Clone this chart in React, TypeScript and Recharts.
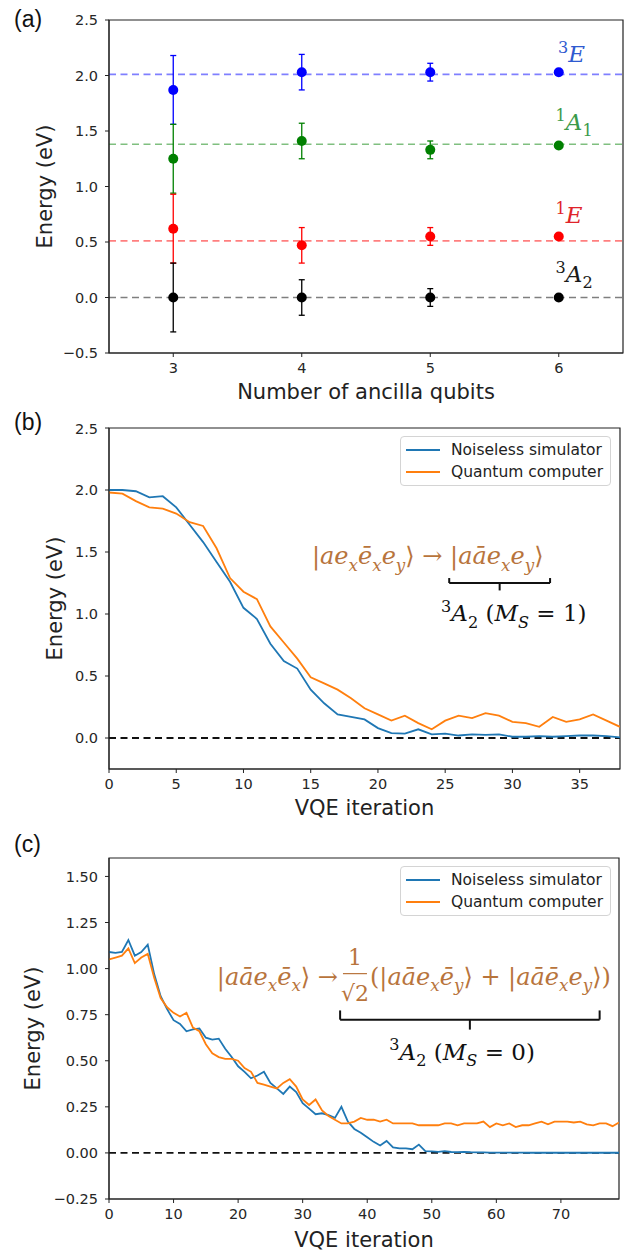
import React from "react";
import {
  ComposedChart,
  LineChart,
  Line,
  Scatter,
  ErrorBar,
  XAxis,
  YAxis,
  ReferenceLine,
  ReferenceArea,
  ReferenceDot,
  Legend,
} from "recharts";

// ---- panel (a): state energies vs number of ancilla qubits
const ancillaQubits = [3, 4, 5, 6];
const ancillaError = [0.31, 0.16, 0.08, 0];
const energy3E = [1.87, 2.03, 2.03, 2.03];
const energy1A1 = [1.25, 1.41, 1.33, 1.37];
const energy1E = [0.62, 0.47, 0.55, 0.55];
const energy3A2 = [0, 0, 0, 0];
const exactLevels = [2.01, 1.38, 0.51, 0];
const ticksAX = [3, 4, 5, 6];
const ticksAY = [-0.5, 0, 0.5, 1, 1.5, 2, 2.5];

// ---- panel (b): VQE run, M_S = 1
const simB = [
  2.0, 2.0, 1.99, 1.94, 1.95, 1.86, 1.72, 1.58, 1.42, 1.26,
  1.05, 0.96, 0.76, 0.62, 0.56, 0.39, 0.28, 0.19, 0.17, 0.15,
  0.08, 0.04, 0.035, 0.07, 0.03, 0.035, 0.02, 0.03, 0.025, 0.03,
  0.01, 0.01, 0.015, 0.01, 0.015, 0.02, 0.02, 0.015, 0.005,
];
const qcB = [
  1.98, 1.97, 1.91, 1.86, 1.85, 1.81, 1.74, 1.71, 1.53, 1.29,
  1.18, 1.12, 0.9, 0.77, 0.64, 0.49, 0.44, 0.39, 0.32, 0.24,
  0.19, 0.14, 0.18, 0.12, 0.07, 0.14, 0.18, 0.16, 0.2, 0.18,
  0.13, 0.12, 0.09, 0.17, 0.13, 0.15, 0.19, 0.14, 0.09,
];
const ticksBX = [0, 5, 10, 15, 20, 25, 30, 35];
const ticksBY = [0, 0.5, 1, 1.5, 2, 2.5];

// ---- panel (c): VQE run, M_S = 0
const simC = [
  1.09, 1.085, 1.09, 1.155, 1.07, 1.09, 1.13, 0.97, 0.85, 0.78,
  0.72, 0.7, 0.66, 0.67, 0.675, 0.625, 0.615, 0.62, 0.565, 0.52,
  0.47, 0.44, 0.405, 0.42, 0.44, 0.38, 0.35, 0.32, 0.36, 0.33,
  0.27, 0.24, 0.21, 0.215, 0.205, 0.19, 0.25, 0.17, 0.13, 0.11,
  0.085, 0.06, 0.04, 0.065, 0.03, 0.025, 0.025, 0.02, 0.045, 0.01,
  0.008, 0.006, 0.01, 0.005, 0.004, 0.006, 0.004, 0.003, 0.003, 0.002,
  0.002, 0.002, 0.002, 0.002, 0.002, 0.001, 0.001, 0.001, 0.001, 0.001,
  0.001, 0.001, 0.001, 0.001, 0.001, 0.001, 0.001, 0.001, 0.001, 0.001,
];
const qcC = [
  1.05, 1.06, 1.07, 1.11, 1.03, 1.06, 1.08, 0.95, 0.84, 0.79,
  0.76, 0.74, 0.76, 0.68, 0.66, 0.59, 0.54, 0.52, 0.51, 0.51,
  0.5, 0.46, 0.44, 0.38, 0.37, 0.36, 0.35, 0.38, 0.4, 0.36,
  0.29, 0.26, 0.29, 0.23, 0.2, 0.18, 0.16, 0.16, 0.17, 0.19,
  0.18, 0.18, 0.17, 0.18, 0.16, 0.16, 0.16, 0.16, 0.15, 0.15,
  0.15, 0.15, 0.16, 0.16, 0.15, 0.16, 0.16, 0.16, 0.17, 0.14,
  0.16, 0.15, 0.16, 0.14, 0.15, 0.15, 0.16, 0.17, 0.155, 0.17,
  0.17, 0.17, 0.165, 0.17, 0.155, 0.15, 0.16, 0.16, 0.145, 0.165,
];
const ticksCX = [0, 10, 20, 30, 40, 50, 60, 70];
const ticksCY = [-0.25, 0, 0.25, 0.5, 0.75, 1, 1.25, 1.5];

const BLUE = "#1f77b4";
const ORANGE = "#ff7f0e";
const BROWN = "#b8743c";
const SANS = "'DejaVu Sans', sans-serif";
const SERIF = "'DejaVu Serif', serif";

const tickStyle = { fontSize: 14.5, fontFamily: SANS, fill: "#262626" };
const axisTitle = { fontSize: 21, fontFamily: SANS, fill: "#222" };

const fmt1 = (v: number) => (v < 0 ? "\u2212" : "") + Math.abs(v).toFixed(1);
const fmt2 = (v: number) => (v < 0 ? "\u2212" : "") + Math.abs(v).toFixed(2);

// [text, shift (1 sub, -1 sup), upright]
type Part = [string, number?, boolean?];

const mathSpans = (parts: Part[], size: number) => {
  let cur = 0;
  return parts.map(([t, s = 0, upright = false], i) => {
    const target = s > 0 ? size * 0.28 : s < 0 ? -size * 0.4 : 0;
    const dy = target - cur;
    cur = target;
    return (
      <tspan
        key={i}
        dy={dy}
        fontSize={s ? size * 0.7 : size}
        fontStyle={upright ? "normal" : "italic"}
      >
        {t}
      </tspan>
    );
  });
};

const mathShape =
  (parts: Part[], size: number, color: string, anchor = "middle") =>
  (p: any) =>
    (
      <text x={p.cx} y={p.cy} textAnchor={anchor} fill={color} fontFamily={SERIF} fontSize={size}>
        {mathSpans(parts, size)}
      </text>
    );

// level labels for panel (a)
const levelStates = [
  { values: energy3E, color: "#0000ff", line: "rgba(0,0,255,0.5)", text: "#2f5ad0",
    label: [["3", -1, true], ["E"]] as Part[], lx: 6.1, ly: 2.12 },
  { values: energy1A1, color: "#008000", line: "rgba(0,128,0,0.5)", text: "#3c9a4a",
    label: [["1", -1, true], ["A"], ["1", 1, true]] as Part[], lx: 6.12, ly: 1.51 },
  { values: energy1E, color: "#ff0000", line: "rgba(255,0,0,0.5)", text: "#e0242a",
    label: [["1", -1, true], ["E"]] as Part[], lx: 6.08, ly: 0.67 },
  { values: energy3A2, color: "#000000", line: "rgba(0,0,0,0.5)", text: "#1a1a1a",
    label: [["3", -1, true], ["A"], ["2", 1, true]] as Part[], lx: 6.12, ly: 0.14 },
].map((s, k) => ({
  ...s,
  level: exactLevels[k],
  data: ancillaQubits.map((q, i) => ({ x: q, y: s.values[i], err: ancillaError[i] })),
}));

const LegendBox = (props: any) => {
  const items = props.payload || [];
  return (
    <div
      style={{
        boxSizing: "border-box",
        width: 211,
        height: 50,
        border: "1px solid #d4d4d4",
        borderRadius: 4,
        background: "rgba(255,255,255,0.85)",
        padding: "2px 5px",
        fontFamily: SANS,
        fontSize: 15.5,
        color: "#222",
      }}
    >
      {items.map((it: any) => (
        <div key={it.value} style={{ display: "flex", alignItems: "center", height: 22 }}>
          <svg width={34} height={4} style={{ marginRight: 11 }}>
            <line x1={0} y1={2} x2={34} y2={2} stroke={it.color} strokeWidth={2} />
          </svg>
          <span>{it.value}</span>
        </div>
      ))}
    </div>
  );
};

const panelTag = (text: string, top: number) => (
  <div
    style={{
      position: "absolute",
      left: 14,
      top,
      fontFamily: "'Liberation Sans', Arial, sans-serif",
      fontSize: 23,
      lineHeight: "23px",
      color: "#111",
    }}
  >
    {text}
  </div>
);

const brace = (x1: number, x2: number, top: number, bar: number, tip: number) => {
  const mid = (x1 + x2) / 2;
  const segs = [
    [{ x: x1, y: top }, { x: x1, y: bar }],
    [{ x: x1, y: bar }, { x: x2, y: bar }],
    [{ x: x2, y: bar }, { x: x2, y: top }],
    [{ x: mid, y: bar }, { x: mid, y: tip }],
  ];
  return segs.map((s, i) => (
    <ReferenceLine key={"br" + i} segment={s} stroke="#111" strokeWidth={2} />
  ));
};

const ketB: Part[] = [
  ["|", 0, true], ["ae"], ["x", 1], ["ē"], ["x", 1], ["e"], ["y", 1],
  ["\u27E9 \u2192 |", 0, true], ["aāe"], ["x", 1], ["e"], ["y", 1], ["\u27E9", 0, true],
];
const stateB: Part[] = [
  ["3", -1, true], ["A"], ["2", 1, true], [" (", 0, true], ["M"], ["S", 1], [" = 1)", 0, true],
];
const ketCLeft: Part[] = [
  ["|", 0, true], ["aāe"], ["x", 1], ["ē"], ["x", 1], ["\u27E9 \u2192", 0, true],
];
const ketCRight: Part[] = [
  ["(|", 0, true], ["aāe"], ["x", 1], ["ē"], ["y", 1], ["\u27E9 + |", 0, true],
  ["aāē"], ["x", 1], ["e"], ["y", 1], ["\u27E9)", 0, true],
];
const stateC: Part[] = [
  ["3", -1, true], ["A"], ["2", 1, true], [" (", 0, true], ["M"], ["S", 1], [" = 0)", 0, true],
];

const fractionShape = (p: any) => {
  const size = 24;
  return (
    <g fill={BROWN} fontFamily={SERIF}>
      <text x={p.cx - 17} y={p.cy} textAnchor="end" fontSize={size}>
        {mathSpans(ketCLeft, size)}
      </text>
      <text x={p.cx} y={p.cy - 20} textAnchor="middle" fontSize={22}>1</text>
      <line x1={p.cx - 12} x2={p.cx + 12} y1={p.cy - 11} y2={p.cy - 11} stroke={BROWN} strokeWidth={1.2} />
      <text x={p.cx} y={p.cy + 16} textAnchor="middle" fontSize={22}>√2</text>
      <text x={p.cx + 15} y={p.cy} textAnchor="start" fontSize={size}>
        {mathSpans(ketCRight, size)}
      </text>
    </g>
  );
};

const PanelA = () => (
  <ComposedChart width={624} height={420} margin={{ top: 20, right: 1, left: 24, bottom: 12 }}>
    <XAxis
      type="number"
      dataKey="x"
      domain={[2.5, 6.5]}
      ticks={ticksAX}
      tick={tickStyle}
      tickSize={4}
      tickMargin={6}
      stroke="#222"
      height={55}
      label={{ value: "Number of ancilla qubits", position: "insideBottom", offset: 9, style: axisTitle }}
    />
    <YAxis
      type="number"
      dataKey="y"
      domain={[-0.5, 2.5]}
      ticks={ticksAY}
      tickFormatter={fmt1}
      tick={tickStyle}
      tickSize={4}
      tickMargin={7}
      stroke="#222"
      width={85}
      label={{ value: "Energy (eV)", angle: -90, position: "insideLeft", offset: 21, style: { ...axisTitle, textAnchor: "middle" } }}
    />
    <ReferenceArea x1={2.5} x2={6.5} y1={-0.5} y2={2.5} fill="none" stroke="#222" strokeWidth={1.2} />
    {levelStates.map((s, i) => (
      <ReferenceLine key={"lv" + i} y={s.level} stroke={s.line} strokeWidth={1.6} strokeDasharray="7 4.5" />
    ))}
    {levelStates.map((s, i) => (
      <Scatter
        key={"sc" + i}
        data={s.data}
        fill={s.color}
        isAnimationActive={false}
        shape={(p: any) => <circle cx={p.cx} cy={p.cy} r={5} fill={s.color} />}
      >
        <ErrorBar dataKey="err" direction="y" width={3} stroke={s.color} strokeWidth={1.3} />
      </Scatter>
    ))}
    {levelStates.map((s, i) => (
      <ReferenceDot key={"lb" + i} x={s.lx} y={s.ly} r={0} shape={mathShape(s.label, 23, s.text)} />
    ))}
  </ComposedChart>
);

const PanelB = () => {
  const data = simB.map((v, i) => ({ it: i, sim: v, qc: qcB[i] }));
  return (
    <LineChart width={624} height={400} data={data} margin={{ top: 8, right: 4, left: 24, bottom: 1 }}>
      <XAxis
        type="number"
        dataKey="it"
        domain={[0, 38]}
        ticks={ticksBX}
        tick={tickStyle}
        tickSize={4}
        tickMargin={6}
        stroke="#222"
        height={50}
        allowDataOverflow
        label={{ value: "VQE iteration", position: "insideBottom", offset: 4, style: axisTitle }}
      />
      <YAxis
        type="number"
        domain={[-0.25, 2.5]}
        ticks={ticksBY}
        tickFormatter={fmt1}
        tick={tickStyle}
        tickSize={4}
        tickMargin={7}
        stroke="#222"
        width={85}
        allowDataOverflow
        label={{ value: "Energy (eV)", angle: -90, position: "insideLeft", offset: 31, style: { ...axisTitle, textAnchor: "middle" } }}
      />
      <ReferenceArea x1={0} x2={38} y1={-0.25} y2={2.5} fill="none" stroke="#222" strokeWidth={1.2} />
      <ReferenceLine y={0} stroke="#111" strokeWidth={1.8} strokeDasharray="7 4.5" />
      <Line dataKey="sim" name="Noiseless simulator" stroke={BLUE} strokeWidth={1.8} dot={false} isAnimationActive={false} />
      <Line dataKey="qc" name="Quantum computer" stroke={ORANGE} strokeWidth={1.8} dot={false} isAnimationActive={false} />
      <Legend
        layout="horizontal"
        verticalAlign="middle"
        align="center"
        wrapperStyle={{ top: 16, left: 400, width: 211 }}
        content={<LegendBox />}
      />
      <ReferenceDot x={23.7} y={1.4} r={0} shape={mathShape(ketB, 24, BROWN)} />
      {brace(25.3, 32.8, 1.29, 1.25, 1.19)}
      <ReferenceDot x={30.1} y={0.94} r={0} shape={mathShape(stateB, 23, "#111")} />
    </LineChart>
  );
};

const PanelC = () => {
  const data = simC.map((v, i) => ({ it: i, sim: v, qc: qcC[i] }));
  return (
    <LineChart width={624} height={431} data={data} margin={{ top: 38, right: 5, left: 24, bottom: 2 }}>
      <XAxis
        type="number"
        dataKey="it"
        domain={[0, 79]}
        ticks={ticksCX}
        tick={tickStyle}
        tickSize={4}
        tickMargin={6}
        stroke="#222"
        height={50}
        allowDataOverflow
        label={{ value: "VQE iteration", position: "insideBottom", offset: 2, style: axisTitle }}
      />
      <YAxis
        type="number"
        domain={[-0.25, 1.6]}
        ticks={ticksCY}
        tickFormatter={fmt2}
        tick={tickStyle}
        tickSize={4}
        tickMargin={7}
        stroke="#222"
        width={85}
        allowDataOverflow
        label={{ value: "Energy (eV)", angle: -90, position: "insideLeft", offset: 9, style: { ...axisTitle, textAnchor: "middle" } }}
      />
      <ReferenceArea x1={0} x2={79} y1={-0.25} y2={1.6} fill="none" stroke="#222" strokeWidth={1.2} />
      <ReferenceLine y={0} stroke="#111" strokeWidth={1.8} strokeDasharray="7 4.5" />
      <Line dataKey="sim" name="Noiseless simulator" stroke={BLUE} strokeWidth={1.8} dot={false} isAnimationActive={false} />
      <Line dataKey="qc" name="Quantum computer" stroke={ORANGE} strokeWidth={1.8} dot={false} isAnimationActive={false} />
      <Legend
        layout="horizontal"
        verticalAlign="middle"
        align="center"
        wrapperStyle={{ top: 46, left: 400, width: 211 }}
        content={<LegendBox />}
      />
      <ReferenceDot x={38.1} y={0.913} r={0} shape={fractionShape} />
      {brace(35.8, 76.0, 0.773, 0.723, 0.669)}
      <ReferenceDot x={54.7} y={0.506} r={0} shape={mathShape(stateC, 23, "#111")} />
    </LineChart>
  );
};

export default function App() {
  return (
    <div style={{ position: "absolute", left: 0, top: 0, width: 624, height: 1251, background: "#fff" }}>
      <div style={{ position: "absolute", left: 0, top: 0 }}>
        <PanelA />
      </div>
      <div style={{ position: "absolute", left: 0, top: 420 }}>
        <PanelB />
      </div>
      <div style={{ position: "absolute", left: 0, top: 820 }}>
        <PanelC />
      </div>
      {panelTag("(a)", 8)}
      {panelTag("(b)", 411)}
      {panelTag("(c)", 833)}
    </div>
  );
}
